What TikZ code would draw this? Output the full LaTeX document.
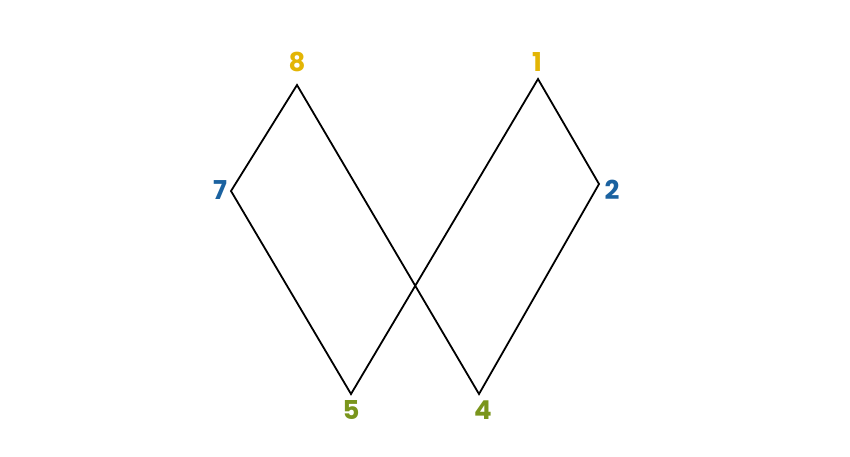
\documentclass[tikz,border=0pt]{standalone}
\usepackage{fontspec}
\setmainfont{Poppins}
\definecolor{cyel}{HTML}{E3B505}
\definecolor{cblue}{HTML}{1B62A0}
\definecolor{colive}{HTML}{7A951C}
\begin{document}
\begin{tikzpicture}[x=1pt,y=-1pt,
  lab/.style={font=\fontsize{26}{28}\selectfont\bfseries, inner sep=0pt},
  edge/.style={draw=black, line width=1.8pt, line join=miter}]
\useasboundingbox (0,0) rectangle (850,456);
\coordinate (p8) at (297,85);
\coordinate (p7) at (231,191);
\coordinate (p5) at (351,394);
\coordinate (p1) at (538,79);
\coordinate (p2) at (599,184);
\coordinate (p4) at (479,394);
\draw[edge] (p8) -- (p7) -- (p5) -- (p1) -- (p2) -- (p4) -- cycle;
\node[lab, text=cyel] (l8) at (297,62) {8};
\node[lab, text=cyel] (l1) at (537,62) {1};
\node[lab, text=cblue] (l7) at (220,190) {7};
\node[lab, text=cblue] (l2) at (612,190) {2};
\node[lab, text=colive] (l5) at (351,410) {5};
\node[lab, text=colive] (l4) at (483,410) {4};
\end{tikzpicture}
\end{document}
